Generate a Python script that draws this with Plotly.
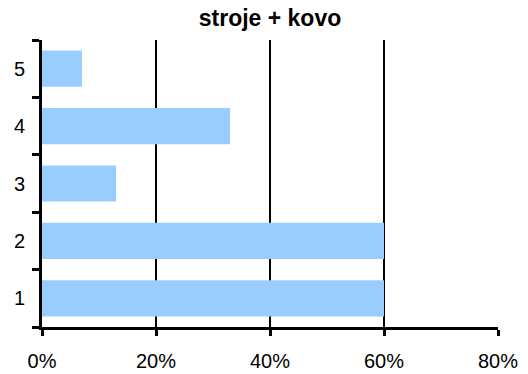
import plotly.graph_objects as go

categories = ["1", "2", "3", "4", "5"]
shares = [60, 60, 13, 33, 7]  # percent
x_ticks = [0, 20, 40, 60, 80]
x_tick_labels = ["0%", "20%", "40%", "60%", "80%"]
title_text = "stroje + kovo"

FONT = "Liberation Sans, Arial, sans-serif"

fig = go.Figure(
    go.Bar(
        x=shares,
        y=categories,
        orientation="h",
        marker=dict(color="#99CCFF", line=dict(width=0)),
        width=0.63,
    )
)

fig.update_layout(
    width=528,
    height=374,
    margin=dict(l=42, r=30, t=40, b=47, autoexpand=False),
    paper_bgcolor="white",
    plot_bgcolor="white",
    showlegend=False,
    font=dict(family=FONT, size=20, color="black"),
    title=dict(
        text="<b>" + title_text + "</b>",
        font=dict(family=FONT, size=23, color="black"),
        x=0.5,
        xref="paper",
        xanchor="center",
        y=1 - 26 / 374,
        yanchor="bottom",
        pad=dict(b=0),
    ),
)

fig.update_xaxes(
    range=[0, 80],
    tickvals=x_ticks,
    ticktext=x_tick_labels,
    showgrid=True,
    gridcolor="black",
    gridwidth=2,
    showline=True,
    linecolor="#000000",
    linewidth=3,
    ticks="outside",
    ticklen=6,
    tickwidth=3,
    tickcolor="#000000",
    ticklabelstandoff=8,
    automargin=False,
    zeroline=False,
    fixedrange=True,
)

fig.update_yaxes(
    type="category",
    categoryorder="array",
    categoryarray=categories,
    range=[-0.5, 4.5],
    tickson="boundaries",
    showgrid=False,
    showline=True,
    linecolor="#000000",
    linewidth=3,
    ticks="outside",
    ticklen=7,
    tickwidth=3,
    tickcolor="#000000",
    ticklabelstandoff=10,
    automargin=False,
    zeroline=False,
    fixedrange=True,
)

fig.write_html("out.html")
